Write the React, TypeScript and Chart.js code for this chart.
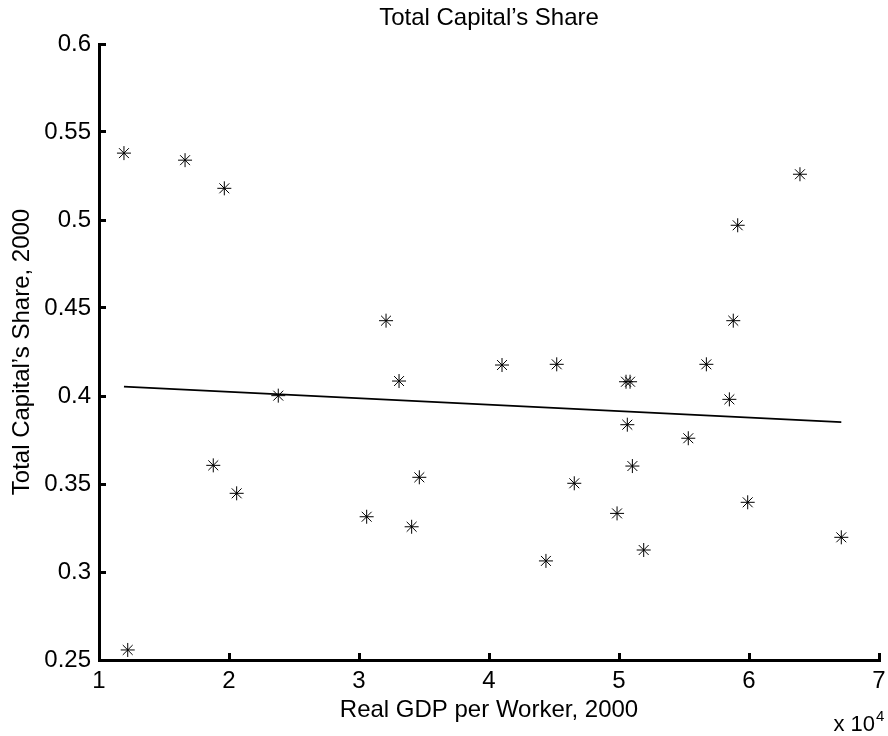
import React, { useEffect, useRef } from "react";
import { Chart, registerables } from "chart.js";

Chart.register(...registerables);

// Real GDP per worker (2000 dollars) and total capital's share, 2000
const gdpPerWorker = [
  11920, 16620, 19640, 12210, 18790, 20590, 23790, 30590, 32080, 33080,
  34050, 34640, 41000, 44380, 45210, 46560, 49850, 50540, 50850, 50640,
  51030, 51900, 55330, 56720, 58490, 58790, 59130, 59900, 63920, 67100,
];
const capitalShare = [
  0.538, 0.534, 0.518, 0.2557, 0.3606, 0.3447, 0.4002, 0.3314, 0.4428, 0.4085,
  0.3257, 0.3538, 0.4176, 0.3063, 0.418, 0.3504, 0.3333, 0.4081, 0.4081, 0.3837,
  0.3602, 0.3125, 0.376, 0.418, 0.3981, 0.4428, 0.497, 0.3396, 0.526, 0.3197,
];

// Fitted trend line endpoints
const trendX = [11920, 67100];
const trendY = [0.4053, 0.3852];

const xTickValues = [1, 2, 3, 4, 5, 6, 7];
const yTickValues = [0.25, 0.3, 0.35, 0.4, 0.45, 0.5, 0.55, 0.6];

const titleText = "Total Capital\u2019s Share";
const xTitle = "Real GDP per Worker, 2000";
const yTitle = "Total Capital\u2019s Share, 2000";
const exponentBase = "x 10";
const exponentPower = "4";

const FONT = "'Liberation Sans', Arial, Helvetica, sans-serif";
const FS = 24;

export default function App() {
  const canvasRef = useRef<HTMLCanvasElement | null>(null);

  useEffect(() => {
    const canvas = canvasRef.current;
    if (!canvas) return;

    const exponentPlugin = {
      id: "exponentLabel",
      afterDraw(chart: any) {
        const ctx = chart.ctx;
        const xs = chart.scales.x;
        const right = xs.getPixelForValue(70000);
        ctx.save();
        ctx.fillStyle = "#000";
        ctx.textBaseline = "alphabetic";
        ctx.textAlign = "right";
        ctx.font = `22px ${FONT}`;
        ctx.fillText(exponentBase, right - 4, 731);
        ctx.textAlign = "left";
        ctx.font = `15px ${FONT}`;
        ctx.fillText(exponentPower, right - 3, 721);
        ctx.restore();
      },
    };

    const chart = new Chart(canvas, {
      type: "scatter",
      data: {
        datasets: [
          {
            label: "data",
            data: gdpPerWorker.map((x, i) => ({ x, y: capitalShare[i] })),
            pointStyle: "star",
            pointRadius: 7,
            borderColor: "#000",
            backgroundColor: "#000",
            borderWidth: 1,
            showLine: false,
          },
          {
            label: "trend",
            data: trendX.map((x, i) => ({ x, y: trendY[i] })),
            showLine: true,
            pointRadius: 0,
            borderColor: "#000",
            borderWidth: 1.7,
            fill: false,
          },
        ],
      },
      options: {
        responsive: false,
        animation: false,
        devicePixelRatio: 1,
        layout: { padding: { left: 0, right: 9, top: 0, bottom: 0 } },
        plugins: {
          legend: { display: false },
          tooltip: { enabled: false },
          title: {
            display: true,
            text: titleText,
            fullSize: false,
            color: "#000",
            font: { family: FONT, size: FS, weight: "normal" },
            padding: { top: 3.9, bottom: 11.3 },
          },
        },
        scales: {
          x: {
            type: "linear",
            min: 10000,
            max: 70000,
            afterFit(scale: any) {
              scale.height = 76;
              scale.paddingLeft = 0;
              scale.paddingRight = 0;
            },
            afterBuildTicks(scale: any) {
              scale.ticks = xTickValues.map((v) => ({ value: v * 10000 }));
            },
            ticks: {
              color: "#000",
              font: { family: FONT, size: FS },
              padding: 13.6,
              maxRotation: 0,
              autoSkip: false,
              callback: (v: any) => String(Number(v) / 10000),
            },
            grid: {
              display: true,
              drawOnChartArea: false,
              drawTicks: true,
              tickLength: -7,
              lineWidth: 3,
              color: "#000",
            },
            border: { display: true, color: "#000", width: 3 },
            title: {
              display: true,
              text: xTitle,
              color: "#000",
              font: { family: FONT, size: FS },
              padding: { top: 0, bottom: 10.8 },
            },
          },
          y: {
            type: "linear",
            min: 0.25,
            max: 0.6,
            afterFit(scale: any) {
              scale.width = 99;
              scale.paddingTop = 0;
              scale.paddingBottom = 0;
            },
            afterBuildTicks(scale: any) {
              scale.ticks = yTickValues.map((v) => ({ value: v }));
            },
            ticks: {
              color: "#000",
              font: { family: FONT, size: FS },
              padding: 15,
              autoSkip: false,
              callback: (v: any) => String(Number(Number(v).toFixed(2))),
            },
            grid: {
              display: true,
              drawOnChartArea: false,
              drawTicks: true,
              tickLength: -7,
              lineWidth: 3,
              color: "#000",
            },
            border: { display: true, color: "#000", width: 3 },
            title: {
              display: true,
              text: yTitle,
              color: "#000",
              font: { family: FONT, size: FS },
              padding: { top: 7.6, bottom: 0 },
            },
          },
        },
      },
      plugins: [exponentPlugin],
    } as any);

    return () => {
      chart.destroy();
    };
  }, []);

  return (
    <div
      style={{
        position: "absolute",
        left: 0,
        top: 0,
        width: 888,
        height: 736,
        background: "#fff",
      }}
    >
      <canvas ref={canvasRef} width={888} height={736} />
    </div>
  );
}
